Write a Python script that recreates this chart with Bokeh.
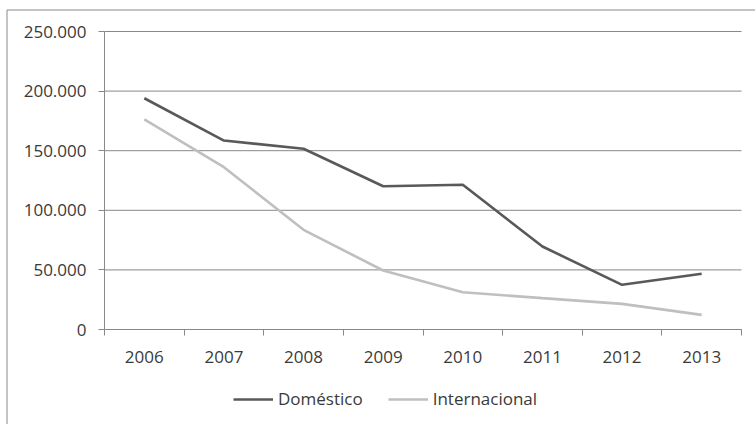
from bokeh.plotting import figure
from bokeh.models import (Range1d, FixedTicker, Legend, LegendItem, BoxAnnotation)
from bokeh.embed import file_html
from bokeh.resources import INLINE

years = ["2006", "2007", "2008", "2009", "2010", "2011", "2012", "2013"]
domestico = [194000, 158500, 151600, 120200, 121400, 69600, 37500, 46700]
internacional = [176200, 136200, 83600, 49500, 31300, 26300, 21500, 12300]
y_ticks = [0, 50000, 100000, 150000, 200000, 250000]
y_tick_labels = ["0", "50.000", "100.000", "150.000", "200.000", "250.000"]

FONT = "Open Sans"
TEXT = "#3a3a3a"
AXIS = "#888888"

n = len(years)
xs = [i + 0.5 for i in range(n)]
ymax = y_ticks[-1]

# The frame fills the whole canvas; the plot area (104..741 x 31..329 px)
# is placed inside it by the ranges, axes sit at fixed locations.
W, H = 755, 424
L, R, T, B = 104, 741, 31, 329
xu = (R - L) / n
yu = ymax / (B - T)
p = figure(width=W, height=H, output_backend="svg", toolbar_location=None,
           x_range=Range1d(-L / xu, n + (W - R) / xu),
           y_range=Range1d(-(H - B) * yu, ymax + T * yu),
           min_border=0)
p.outline_line_color = None
p.background_fill_color = "white"
p.border_fill_color = "white"
p.xgrid.visible = False
p.ygrid.visible = False

# outer chart border (only the top and left edges fall inside the window)
p.add_layout(BoxAnnotation(left=6.5, right=2000, top=9.5, bottom=2000,
                           left_units="canvas", right_units="canvas",
                           top_units="canvas", bottom_units="canvas",
                           fill_alpha=0, line_color=AXIS, line_alpha=1.0,
                           line_width=1))

# horizontal gridlines
p.segment(x0=[0] * len(y_ticks), x1=[n] * len(y_ticks), y0=y_ticks, y1=y_ticks,
          line_color=AXIS, line_width=1)

r1 = p.line(xs, domestico, line_color="#595959", line_width=2.6)
r2 = p.line(xs, internacional, line_color="#bfbfbf", line_width=2.6)

# x axis
xa = p.xaxis[0]
xa.fixed_location = 0
xa.bounds = (0, n)
xa.ticker = FixedTicker(ticks=xs, minor_ticks=list(range(n + 1)))
xa.major_label_overrides = {x: y for x, y in zip(xs, years)}
xa.major_tick_out = 0
xa.major_tick_in = 0
xa.minor_tick_out = 6
xa.minor_tick_in = 0
xa.minor_tick_line_color = AXIS
xa.axis_line_color = AXIS
xa.major_label_standoff = 15
xa.major_label_text_font = FONT
xa.major_label_text_font_size = "17px"
xa.major_label_text_color = TEXT

# y axis
ya = p.yaxis[0]
ya.fixed_location = 0
ya.bounds = (0, ymax)
ya.ticker = FixedTicker(ticks=y_ticks)
ya.major_label_overrides = {t: l for t, l in zip(y_ticks, y_tick_labels)}
ya.major_tick_out = 6
ya.major_tick_in = 0
ya.minor_tick_out = 0
ya.minor_tick_in = 0
ya.major_tick_line_color = AXIS
ya.axis_line_color = AXIS
ya.major_label_standoff = 12
ya.major_label_text_font = FONT
ya.major_label_text_font_size = "17px"
ya.major_label_text_color = TEXT

legend = Legend(items=[LegendItem(label="Doméstico", renderers=[r1]),
                       LegendItem(label="Internacional", renderers=[r2])],
                orientation="horizontal", location=(233, 14))
legend.glyph_width = 40
legend.glyph_height = 20
legend.label_standoff = 5
legend.spacing = 25
legend.padding = 0
legend.margin = 0
legend.border_line_alpha = 0
legend.background_fill_alpha = 0
legend.label_text_font = FONT
legend.label_text_font_size = "17px"
legend.label_text_color = TEXT
p.add_layout(legend, "center")

open("out.html", "w").write(file_html(p, INLINE))
